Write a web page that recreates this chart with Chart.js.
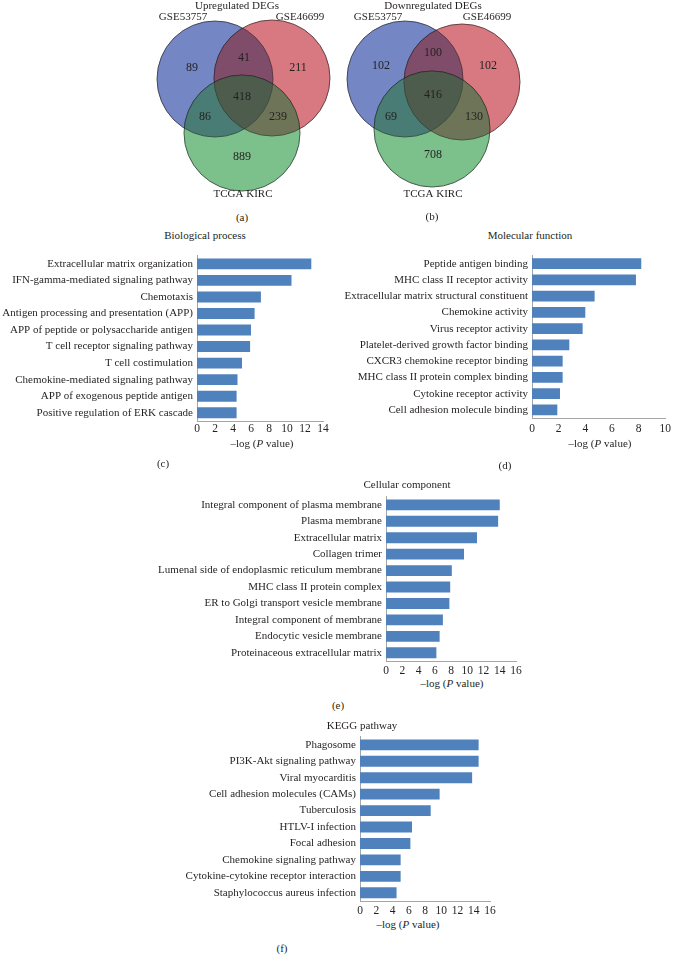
<!DOCTYPE html>
<html>
<head>
<meta charset="utf-8">
<script src="https://cdn.jsdelivr.net/npm/chart.js@4.4.1/dist/chart.umd.min.js"></script>
<style>
  body { margin: 0; background: #fff; }
  #page { position: relative; width: 675px; height: 961px; overflow: hidden; font-family: "Liberation Serif", "Times New Roman", serif; color: #231f20; }
  canvas { position: absolute; }
  .lbl { position: absolute; transform: translate(-50%, -50%); white-space: nowrap; font-size: 11px; }
</style>
</head>
<body>
<div id="page">
  <canvas id="vennUp" width="200" height="205" style="left:140px;top:0px"></canvas>
  <canvas id="vennDown" width="200" height="205" style="left:335px;top:0px"></canvas>
  <canvas id="bp" width="340" height="194" style="left:0px;top:245px"></canvas>
  <canvas id="mf" width="335" height="195" style="left:340px;top:245px"></canvas>
  <canvas id="cc" width="400" height="191" style="left:140px;top:486px"></canvas>
  <canvas id="kegg" width="400" height="192" style="left:120px;top:726px"></canvas>
</div>
<script>
// venn counts, regions: only A, only B, only C, A&B, A&C, B&C, A&B&C
const vennSets = ['GSE53757', 'GSE46699', 'TCGA KIRC'];
const upCounts = [89, 211, 889, 41, 86, 239, 418];
const downCounts = [102, 102, 708, 100, 69, 130, 416];

const bpTerms = ['Extracellular matrix organization', 'IFN-gamma-mediated signaling pathway', 'Chemotaxis',
  'Antigen processing and presentation (APP)', 'APP of peptide or polysaccharide antigen',
  'T cell receptor signaling pathway', 'T cell costimulation', 'Chemokine-mediated signaling pathway',
  'APP of exogenous peptide antigen', 'Positive regulation of ERK cascade'];
const bpValues = [12.7, 10.5, 7.1, 6.4, 6.0, 5.9, 5.0, 4.5, 4.4, 4.4];

const mfTerms = ['Peptide antigen binding', 'MHC class II receptor activity', 'Extracellular matrix structural constituent',
  'Chemokine activity', 'Virus receptor activity', 'Platelet-derived growth factor binding',
  'CXCR3 chemokine receptor binding', 'MHC class II protein complex binding', 'Cytokine receptor activity',
  'Cell adhesion molecule binding'];
const mfValues = [8.2, 7.8, 4.7, 4.0, 3.8, 2.8, 2.3, 2.3, 2.1, 1.9];

const ccTerms = ['Integral component of plasma membrane', 'Plasma membrane', 'Extracellular matrix', 'Collagen trimer',
  'Lumenal side of endoplasmic reticulum membrane', 'MHC class II protein complex', 'ER to Golgi transport vesicle membrane',
  'Integral component of membrane', 'Endocytic vesicle membrane', 'Proteinaceous extracellular matrix'];
const ccValues = [14.0, 13.8, 11.2, 9.6, 8.1, 7.9, 7.8, 7.0, 6.6, 6.2];

const keggTerms = ['Phagosome', 'PI3K-Akt signaling pathway', 'Viral myocarditis', 'Cell adhesion molecules (CAMs)',
  'Tuberculosis', 'HTLV-I infection', 'Focal adhesion', 'Chemokine signaling pathway',
  'Cytokine-cytokine receptor interaction', 'Staphylococcus aureus infection'];
const keggValues = [14.6, 14.6, 13.8, 9.8, 8.7, 6.4, 6.2, 5.0, 5.0, 4.5];

Chart.defaults.font.family = '"Liberation Serif", "Times New Roman", serif';
Chart.defaults.color = '#231f20';

// venn layout (canvas units)
const vennRgb = ['117,134,196', '216,120,128', '125,193,140'];
const upLayout = {
  circles: [[75, 79], [132, 78], [102, 133]], r: 58,
  title: [97, 6], names: [[43, 17], [160, 17], [103, 194]],
  regions: [[52, 68], [158, 68], [102, 157], [104, 58], [65, 117], [138, 117], [102, 97]]
};
const downLayout = {
  circles: [[70, 79], [127, 82], [97, 129]], r: 58,
  title: [98, 6], names: [[43, 17], [152, 17], [98, 194]],
  regions: [[46, 66], [153, 66], [98, 155], [98, 53], [56, 117], [139, 117], [98, 95]]
};

const vennText = {
  id: 'vennText',
  beforeDatasetDraw(chart, args) {
    chart.ctx.save();
    chart.ctx.globalCompositeOperation = chart.data.datasets[args.index].blend;
  },
  afterDatasetDraw(chart) {
    chart.ctx.restore();
  },
  afterDatasetsDraw(chart, args, opts) {
    const ctx = chart.ctx;
    const sx = chart.scales.x, sy = chart.scales.y;
    const put = (t, p, size) => {
      ctx.font = size + 'px "Liberation Serif", serif';
      ctx.fillText(t, sx.getPixelForValue(p[0]), sy.getPixelForValue(p[1]));
    };
    ctx.save();
    ctx.fillStyle = '#231f20';
    ctx.textAlign = 'center';
    ctx.textBaseline = 'middle';
    put(opts.title, opts.layout.title, 11);
    vennSets.forEach((s, i) => put(s, opts.layout.names[i], 11));
    opts.counts.forEach((c, i) => put(String(c), opts.layout.regions[i], 12));
    ctx.restore();
  }
};

function venn(id, title, counts, layout) {
  // each set: a multiplied disc, then a light normal wash of the same colour
  const datasets = [];
  layout.circles.forEach((c, i) => {
    const pt = [{ x: c[0], y: c[1], r: layout.r }];
    datasets.push({ data: pt, blend: 'multiply', backgroundColor: 'rgb(' + vennRgb[i] + ')',
      borderColor: '#555', borderWidth: 1, clip: false, order: 20 - 2 * i });
    datasets.push({ data: pt, blend: 'source-over', backgroundColor: 'rgba(' + vennRgb[i] + ',0.25)',
      borderWidth: 0, clip: false, order: 19 - 2 * i });
  });
  return new Chart(document.getElementById(id), {
    type: 'bubble',
    data: { datasets: datasets },
    options: {
      responsive: false, animation: false, events: [],
      layout: { padding: 0, autoPadding: false },
      plugins: { legend: { display: false }, tooltip: { enabled: false },
        vennText: { title: title, counts: counts, layout: layout } },
      scales: {
        x: { display: false, min: 0, max: 200 },
        y: { display: false, min: 0, max: 205, reverse: true }
      }
    },
    plugins: [vennText]
  });
}

function barChart(id, terms, values, o) {
  return new Chart(document.getElementById(id), {
    type: 'bar',
    data: {
      labels: terms,
      datasets: [{ data: values, backgroundColor: '#4f81bd', barPercentage: 0.66, categoryPercentage: 1 }]
    },
    options: {
      indexAxis: 'y', responsive: false, animation: false, events: [],
      layout: { padding: { top: o.top, right: o.right, bottom: 0, left: 0 } },
      plugins: { legend: { display: false }, tooltip: { enabled: false } },
      scales: {
        x: {
          min: 0, max: o.max,
          ticks: { stepSize: 2, padding: o.tickPad, font: { size: 11.5 }, maxRotation: 0 },
          grid: { display: false, drawTicks: false },
          border: { color: '#a6a6a6' },
          afterFit: s => { s.height = o.xh; }
        },
        y: {
          ticks: { padding: 4, font: { size: 11 }, autoSkip: false },
          grid: { display: false, drawTicks: false },
          border: { color: '#a6a6a6' },
          afterFit: s => { s.width = o.yw; }
        }
      }
    }
  });
}

venn('vennUp', 'Upregulated DEGs', upCounts, upLayout);
venn('vennDown', 'Downregulated DEGs', downCounts, downLayout);
barChart('bp', bpTerms, bpValues, { max: 14, top: 9, right: 17, yw: 197, xh: 18, tickPad: 1 });
barChart('mf', mfTerms, mfValues, { max: 10, top: 9, right: 6, yw: 192, xh: 22, tickPad: 4 });
barChart('cc', ccTerms, ccValues, { max: 16, top: 8, right: 24, yw: 246, xh: 16, tickPad: 3 });
barChart('kegg', keggTerms, keggValues, { max: 16, top: 9, right: 30, yw: 240, xh: 17, tickPad: 3 });

// panel captions and axis titles
const page = document.getElementById('page');
function label(html, x, y) {
  const d = document.createElement('div');
  d.className = 'lbl';
  d.innerHTML = html;
  d.style.left = x + 'px';
  d.style.top = y + 'px';
  page.appendChild(d);
}
const xTitle = '&ndash;log (<i>P</i> value)';
label('(a)', 242, 217);
label('(b)', 432, 216);
label('Biological process', 205, 235);
label(xTitle, 262, 443);
label('(c)', 163, 463);
label('Molecular function', 530, 235);
label(xTitle, 600, 443);
label('(d)', 505, 465);
label('Cellular component', 407, 484);
label(xTitle, 452, 683);
label('(e)', 338, 705);
label('KEGG pathway', 362, 725);
label(xTitle, 408, 924);
label('(f)', 282, 948);
</script>
</body>
</html>
